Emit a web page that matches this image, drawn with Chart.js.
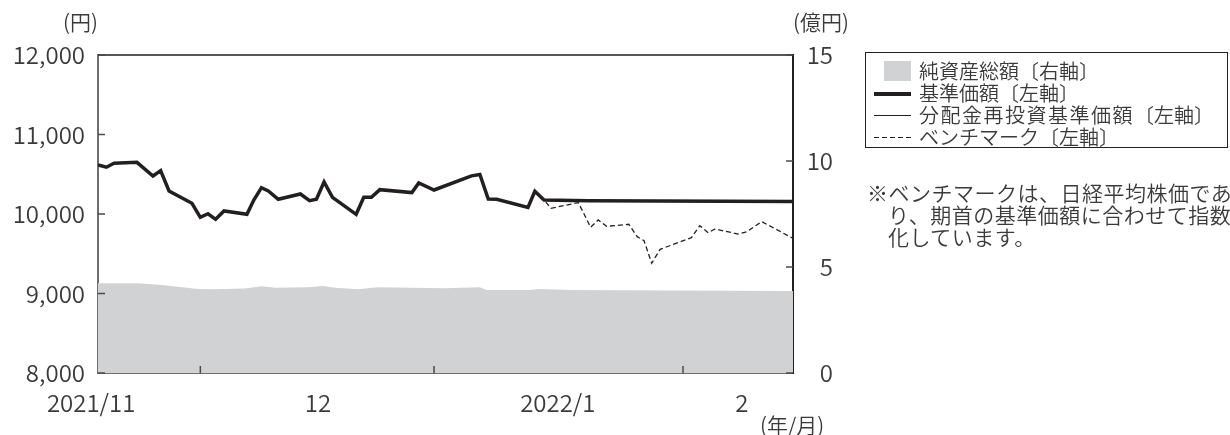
<!DOCTYPE html>
<html><head><meta charset="utf-8">
<script src="https://cdn.jsdelivr.net/npm/chart.js@4/dist/chart.umd.min.js"></script>
<style>
body{margin:0;background:#fff;}
#wrap{position:relative;width:1230px;height:435px;font-family:"Noto Sans CJK JP","Noto Sans",sans-serif;font-weight:350;color:#3a3a3a;}
canvas{position:absolute;left:0;top:0;}
.t{position:absolute;white-space:nowrap;line-height:1;}
#legend{position:absolute;left:865px;top:52px;width:361px;height:94px;border:1px solid #231f20;box-sizing:content-box;}
#legend .row{position:absolute;left:53px;font-size:20px;line-height:1;white-space:nowrap;}
#legend .sym{position:absolute;}
</style></head><body>
<div id="wrap">
<canvas id="c" width="1230" height="435"></canvas>
<div class="t" style="left:63px;top:11px;font-size:21px">(円)</div>
<div class="t" style="left:793px;top:11px;font-size:21px">(億円)</div>
<div class="t" style="left:760px;top:414px;font-size:21px">(年/月)</div>
<div id="legend">
  <div class="sym" style="left:18px;top:8px;width:27px;height:20px;background:#d1d2d4"></div>
  <div class="row" style="top:8px">純資産総額〔右軸〕</div>
  <div class="sym" style="left:8px;top:39px;width:37px;height:3.5px;background:#231f20"></div>
  <div class="row" style="top:30px">基準価額〔左軸〕</div>
  <div class="sym" style="left:8px;top:62px;width:37px;height:1.3px;background:#231f20"></div>
  <div class="row" style="top:52px"><span style="letter-spacing:1.5px">分配金再投資基準価額</span>〔左軸〕</div>
  <div class="sym" style="left:8px;top:84px;width:37px;height:1.3px;background:repeating-linear-gradient(to right,#231f20 0 5px,transparent 5px 8px)"></div>
  <div class="row" style="top:74px">ベンチマーク〔左軸〕</div>
</div>
<div class="t" style="left:867px;top:181px;font-size:21px;line-height:22px;letter-spacing:0.5px;color:#3a3a3a">※ベンチマークは、日経平均株価であ<br><span style="padding-left:21px">り、期首の基準価額に合わせて指数</span><br><span style="padding-left:21px">化しています。</span></div>
</div>
<script>
// ---- data (x = days from start of period) ----
const navDays = [0,1.1,2.1,5.1,7.2,8.2,9.3,12.3,13.4,14.4,15.4,16.5,19.5,20.4,21.4,22.3,23.6,26.5,27.7,28.6,29.6,30.7,33.8,34.8,35.8,36.9,41.1,42.0,44.0,48.9,50.0,51.1,52.2,56.3,57.2,58.4,64.2,91];
const navValues = [10616,10588,10638,10650,10478,10545,10289,10135,9958,10003,9933,10038,9996,10176,10331,10289,10185,10252,10168,10185,10403,10210,9996,10210,10210,10306,10269,10390,10302,10480,10497,10189,10185,10084,10286,10176,10168,10157];
const reinvValues = [10616,10588,10638,10650,10478,10545,10289,10135,9958,10003,9933,10038,9996,10176,10331,10289,10185,10252,10168,10185,10403,10210,9996,10210,10210,10306,10269,10390,10302,10480,10497,10189,10185,10084,10286,10176,10168,10157];
const benchDays = [0,1.1,2.1,5.1,7.2,8.2,9.3,12.3,13.4,14.4,15.4,16.5,19.5,20.4,21.4,22.3,23.6,26.5,27.7,28.6,29.6,30.7,33.8,34.8,35.8,36.9,41.1,42.0,44.0,48.9,50.0,51.1,52.2,56.3,57.2,58.4,59.3,62.9,64.5,65.5,66.6,69.5,70.6,71.5,72.5,73.6,77.7,78.8,79.9,80.8,83.8,84.9,86.9,91];
const benchValues = [10616,10588,10638,10650,10478,10545,10289,10135,9958,10003,9933,10038,9996,10176,10331,10289,10185,10252,10168,10185,10403,10210,9996,10210,10210,10306,10269,10390,10302,10480,10497,10189,10185,10084,10286,10176,10072,10143,9833,9925,9845,9871,9715,9664,9380,9556,9702,9853,9765,9811,9748,9774,9904,9694];
const assetDays = [0,5.2,8.4,13.1,15.3,19.2,21.5,23.2,27.5,29.5,31.0,34.0,36.7,45.4,50.0,50.9,56.6,57.5,62.2,75.3,91];
const assetValues = [4.23,4.23,4.15,3.96,3.95,3.98,4.09,4.02,4.04,4.10,4.02,3.95,4.04,4.00,4.04,3.92,3.91,3.96,3.92,3.89,3.87];
const xLabels = ['2021/11','12','2022/1','2'];
const xLabelDays = [-0.9,28.8,60.2,84.3];
const monthTickDays = [13.4,44.0,76.6];
const yenTicks = [8000,9000,10000,11000,12000];
const okuTicks = [0,5,10,15];

const pts = (xs, ys) => xs.map((x,i)=>({x:x,y:ys[i]}));
const INK = '#231f20';
const TXT = '#3a3a3a';
Chart.defaults.font.family = '"Noto Sans CJK JP","Noto Sans",sans-serif';
Chart.defaults.font.weight = '350';
Chart.defaults.color = TXT;

const frame = {
  id:'frame',
  afterDatasetsDraw(chart){
    const ctx = chart.ctx, a = chart.chartArea;
    ctx.save();
    ctx.strokeStyle = INK; ctx.lineWidth = 1.5;
    ctx.beginPath(); ctx.moveTo(a.left, a.top); ctx.lineTo(a.right, a.top); ctx.stroke();
    ctx.strokeStyle = '#4a4a4a';
    const sy = chart.scales.y, s2 = chart.scales.y2, sx = chart.scales.x;
    yenTicks.forEach(v=>{const p=sy.getPixelForValue(v); ctx.beginPath(); ctx.moveTo(a.left,p); ctx.lineTo(a.left+7,p); ctx.stroke();});
    okuTicks.forEach(v=>{const p=s2.getPixelForValue(v); ctx.beginPath(); ctx.moveTo(a.right,p); ctx.lineTo(a.right-7,p); ctx.stroke();});
    monthTickDays.forEach(v=>{const p=sx.getPixelForValue(v); ctx.beginPath(); ctx.moveTo(p,a.bottom); ctx.lineTo(p,a.bottom-7); ctx.stroke();});
    ctx.restore();
  }
};

new Chart(document.getElementById('c'), {
  type:'line',
  data:{datasets:[
    {label:'基準価額', data:pts(navDays,navValues), yAxisID:'y', borderColor:INK, borderWidth:3.5, pointRadius:0, fill:false, order:1, borderJoinStyle:'miter'},
    {label:'分配金再投資基準価額', data:pts(navDays,reinvValues), yAxisID:'y', borderColor:INK, borderWidth:1.3, pointRadius:0, fill:false, order:2},
    {label:'ベンチマーク', data:pts(benchDays,benchValues), yAxisID:'y', borderColor:INK, borderWidth:1.3, borderDash:[5,3], pointRadius:0, fill:false, order:3},
    {label:'純資産総額', data:pts(assetDays,assetValues), yAxisID:'y2', borderWidth:0, borderColor:'rgba(0,0,0,0)', backgroundColor:'#d1d2d4', pointRadius:0, fill:'origin', order:4}
  ]},
  options:{
    responsive:false, animation:false, devicePixelRatio:1,
    layout:{padding:{top:55,right:397,left:0,bottom:0}},
    plugins:{legend:{display:false}, tooltip:{enabled:false}},
    scales:{
      x:{type:'linear', min:0, max:91, position:'bottom',
        grid:{display:false}, border:{display:true,color:'#6d6e70',width:2},
        afterBuildTicks(s){ s.ticks = xLabelDays.map(v=>({value:v})); },
        afterFit(s){ s.height = 62; },
        ticks:{autoSkip:false, maxRotation:0, padding:7, color:TXT, font:{size:24},
          callback:(v,i)=>xLabels[i]}},
      y:{type:'linear', position:'left', min:8000, max:12000,
        grid:{display:false}, border:{display:true,color:'#6d6e70',width:2},
        afterBuildTicks(s){ s.ticks = yenTicks.map(v=>({value:v})); },
        afterFit(s){ s.width = 98; },
        ticks:{padding:5, color:TXT, font:{size:24}, callback:v=>v.toLocaleString('en-US')}},
      y2:{type:'linear', position:'right', min:0, max:15,
        grid:{display:false}, border:{display:true,color:INK,width:2},
        afterBuildTicks(s){ s.ticks = okuTicks.map(v=>({value:v})); },
        afterFit(s){ s.width = 40; },
        ticks:{padding:16, crossAlign:'far', color:TXT, font:{size:24}}}
    }
  },
  plugins:[frame]
});
</script>
</body></html>
